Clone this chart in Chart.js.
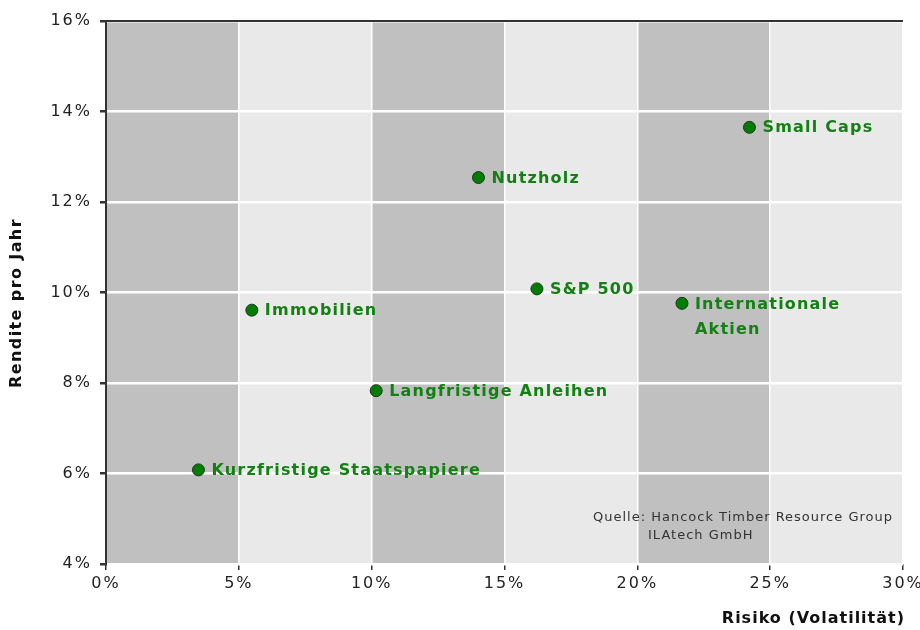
<!DOCTYPE html>
<html>
<head>
<meta charset="utf-8">
<script src="https://cdn.jsdelivr.net/npm/chart.js@4.4.1/dist/chart.umd.min.js"></script>
<style>
  html, body { margin: 0; padding: 0; background: #fff; }
  #wrap { width: 920px; height: 630px; }
</style>
</head>
<body>
<div id="wrap"><canvas id="riskChart" width="920" height="630"></canvas></div>
<script>
// Anlageklassen (Risiko in %, Rendite in %)
const names = ['Kurzfristige Staatspapiere', 'Immobilien', 'Langfristige Anleihen', 'Nutzholz',
    'S&P 500', ['Internationale', 'Aktien'], 'Small Caps'];
const risk = [3.48, 5.49, 10.17, 14.02, 16.22, 21.68, 24.22];
const returns = [6.08, 9.61, 7.83, 12.54, 10.08, 9.76, 13.65];
const xTicks = [0, 5, 10, 15, 20, 25, 30];
const yTicks = [4, 6, 8, 10, 12, 14, 16];
const xTitle = 'Risiko (Volatilität)';
const yTitle = 'Rendite pro Jahr';
const sourceLines = ['Quelle: Hancock Timber Resource Group', 'ILAtech GmbH'];

const green = '#138013';
const fontName = '"DejaVu Sans", Verdana, sans-serif';

const points = risk.map((r, i) => ({ x: r, y: returns[i] }));

// grey bands every 5 % of risk
const bandPlugin = {
    id: 'bands',
    beforeDraw(chart) {
        const { ctx, chartArea: a, scales } = chart;
        ctx.letterSpacing = '2px'; // wide tick labels like the original
        ctx.save();
        for (let i = 0; i < xTicks.length - 1; i++) {
            const x0 = scales.x.getPixelForValue(xTicks[i]);
            const x1 = scales.x.getPixelForValue(xTicks[i + 1]);
            ctx.fillStyle = i % 2 === 0 ? '#c0c0c0' : '#e9e9e9';
            ctx.fillRect(x0, a.top, x1 - x0, a.bottom - a.top);
        }
        ctx.restore();
    },
    afterDraw(chart) {
        const { ctx, chartArea: a } = chart;
        ctx.save();
        // top frame line
        ctx.strokeStyle = '#333';
        ctx.lineWidth = 2;
        ctx.beginPath();
        ctx.moveTo(a.left, a.top);
        ctx.lineTo(a.right, a.top);
        ctx.stroke();

        // axis titles
        ctx.fillStyle = '#111';
        ctx.font = 'bold 16px ' + fontName;
        ctx.letterSpacing = '1px';
        ctx.textBaseline = 'middle';
        ctx.textAlign = 'right';
        ctx.fillText(xTitle, a.right + 2, 619);
        ctx.save();
        ctx.translate(17, 303);
        ctx.rotate(-Math.PI / 2);
        ctx.textAlign = 'center';
        ctx.letterSpacing = '1.4px';
        ctx.fillText(yTitle, 0, 0);
        ctx.restore();

        // source note
        ctx.fillStyle = '#333';
        ctx.font = '13px ' + fontName;
        ctx.letterSpacing = '1px';
        ctx.textAlign = 'left';
        ctx.fillText(sourceLines[0], a.right - 310, a.bottom - 46);
        ctx.fillText(sourceLines[1], a.right - 255, a.bottom - 28);
        ctx.restore();
    }
};

// labels next to the points
const labelPlugin = {
    id: 'pointLabels',
    afterDatasetsDraw(chart) {
        const { ctx } = chart;
        const meta = chart.getDatasetMeta(0);
        ctx.save();
        ctx.fillStyle = green;
        ctx.font = 'bold 16px ' + fontName;
        ctx.letterSpacing = '1.2px';
        ctx.textBaseline = 'middle';
        meta.data.forEach((pt, i) => {
            const lines = Array.isArray(names[i]) ? names[i] : [names[i]];
            lines.forEach((line, j) => {
                ctx.fillText(line, pt.x + 13, pt.y + 1 + j * 25);
            });
        });
        ctx.restore();
    }
};

const ctx = document.getElementById('riskChart').getContext('2d');
new Chart(ctx, {
    type: 'scatter',
    data: {
        datasets: [{
            data: points,
            pointRadius: 6,
            pointHoverRadius: 6,
            backgroundColor: '#007d00',
            borderColor: '#1c3a1c',
            borderWidth: 1
        }]
    },
    options: {
        responsive: false,
        animation: false,
        layout: { padding: { top: 21, right: 17, bottom: 4, left: 0 } },
        plugins: {
            legend: { display: false },
            tooltip: { enabled: false }
        },
        scales: {
            x: {
                type: 'linear',
                min: 0,
                max: 30,
                afterBuildTicks(scale) { scale.ticks = xTicks.map(v => ({ value: v })); },
                afterFit(scale) {
                    scale.height = 62;
                    scale.paddingLeft = 0;
                    scale.paddingRight = 0;
                },
                border: { display: false },
                grid: { color: '#ffffff', lineWidth: 1.5, tickColor: '#333', tickLength: 6 },
                ticks: {
                    color: '#222',
                    font: { family: fontName, size: 16 },
                    padding: 4,
                    callback: v => v + '%'
                }
            },
            y: {
                type: 'linear',
                min: 4,
                max: 16,
                afterBuildTicks(scale) { scale.ticks = yTicks.map(v => ({ value: v })); },
                afterFit(scale) {
                    scale.width = 106;
                    scale.paddingTop = 0;
                    scale.paddingBottom = 0;
                },
                border: { display: true, color: '#333', width: 2 },
                grid: { color: '#ffffff', lineWidth: 2.5, tickColor: '#333', tickLength: 6 },
                ticks: {
                    color: '#222',
                    font: { family: fontName, size: 16 },
                    padding: 8,
                    callback: v => v + '%'
                }
            }
        }
    },
    plugins: [bandPlugin, labelPlugin]
});
</script>
</body>
</html>
